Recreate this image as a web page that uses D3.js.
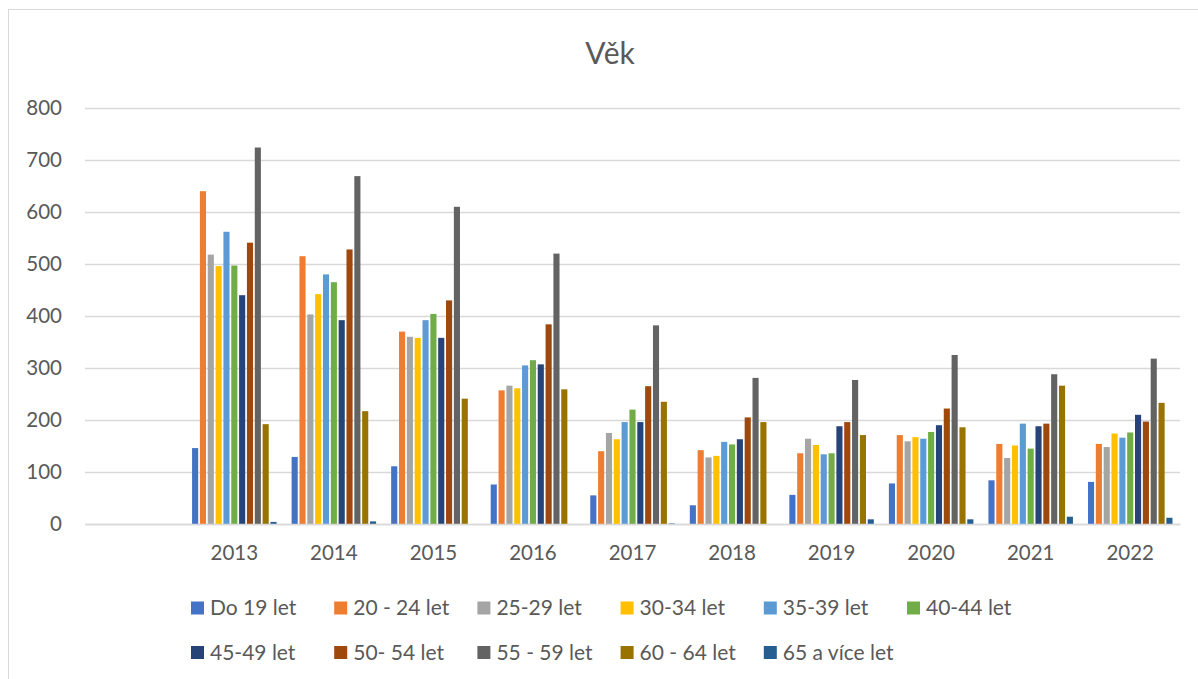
<!doctype html>
<html lang="cs">
  <head>
    <meta charset="utf-8">
    <title>Věk</title>
    <style>
      body { margin: 0; background: #fff; }
      text { font-family: Lato, "Open Sans", sans-serif; fill: #595959; }
    </style>
  </head>
  <body>
    <div id="chart"></div>
    <script src="https://d3js.org/d3.v7.min.js"></script>
    <script>
    // first category is empty in the source sheet
    var years = ["", "2013", "2014", "2015", "2016", "2017", "2018", "2019", "2020", "2021", "2022"];

    var seriesNames = ["Do 19 let", "20 - 24 let", "25-29 let", "30-34 let", "35-39 let", "40-44 let",
                       "45-49 let", "50- 54 let", "55 - 59 let", "60 - 64 let", "65 a více let"];

    var colors = ["#4472C4", "#ED7D31", "#A5A5A5", "#FFC000", "#5B9BD5", "#70AD47",
                  "#264478", "#9E480E", "#636363", "#997300", "#255E91"];

    var yTicks = [0, 100, 200, 300, 400, 500, 600, 700, 800];

    // one array per age group, values for 2013..2022
    var do19   = [146, 129, 111, 76, 55, 36, 56, 78, 84, 81];
    var a20_24 = [640, 515, 370, 257, 140, 142, 136, 171, 154, 154];
    var a25_29 = [518, 403, 360, 266, 175, 128, 164, 159, 127, 148];
    var a30_34 = [496, 442, 358, 261, 163, 131, 152, 167, 151, 174];
    var a35_39 = [562, 480, 392, 305, 196, 158, 134, 164, 193, 166];
    var a40_44 = [497, 465, 404, 315, 220, 153, 136, 177, 145, 176];
    var a45_49 = [440, 392, 358, 307, 196, 163, 188, 190, 188, 210];
    var a50_54 = [541, 528, 430, 384, 265, 205, 196, 222, 193, 197];
    var a55_59 = [724, 669, 610, 520, 382, 281, 277, 325, 288, 318];
    var a60_64 = [192, 217, 241, 259, 235, 196, 171, 186, 266, 233];
    var a65    = [4, 5, 0, 0, 1, 0, 9, 9, 14, 12];

    var seriesValues = [do19, a20_24, a25_29, a30_34, a35_39, a40_44, a45_49, a50_54, a55_59, a60_64, a65];

    var W = 1198, H = 679;

    var svg = d3.select("#chart")
        .append("svg")
        .attr("width", W)
        .attr("height", H);

    // chart frame (runs off the right and bottom of the picture)
    svg.append("rect")
        .attr("x", 8.5).attr("y", 9.5)
        .attr("width", W).attr("height", H)
        .attr("fill", "none")
        .attr("stroke", "#d9d9d9")
        .attr("stroke-width", 1);

    svg.append("text")
        .attr("x", 610).attr("y", 64)
        .attr("text-anchor", "middle")
        .attr("font-size", 30)
        .text("Věk");

    var x0 = d3.scaleBand()
        .domain(years)
        .range([85, 1180]);

    var x1 = d3.scaleBand()
        .domain(seriesNames)
        .range([0, x0.bandwidth()])
        .paddingInner(0.22)
        .paddingOuter(0.96);

    var y = d3.scaleLinear()
        .domain([0, 800])
        .range([524, 108]);

    var yAxis = svg.append("g")
        .attr("transform", "translate(85,0)")
        .call(d3.axisLeft(y).tickValues(yTicks).tickSize(-(1180 - 85)).tickPadding(23));
    yAxis.select(".domain").remove();
    yAxis.selectAll(".tick line")
        .attr("stroke", "#d9d9d9")
        .attr("stroke-width", 1.3);
    yAxis.selectAll(".tick text")
        .attr("font-size", 20.5)
        .attr("fill", "#595959");

    var groups = svg.selectAll("g.year")
        .data(years.slice(1))
        .join("g")
        .attr("class", "year")
        .attr("transform", function(d){ return "translate(" + x0(d) + ",0)"; });

    groups.selectAll("rect")
        .data(function(d, i){
          return seriesNames.map(function(s, j){ return {name: s, value: seriesValues[j][i], color: colors[j]}; });
        })
        .join("rect")
        .attr("x", function(d){ return x1(d.name); })
        .attr("y", function(d){ return y(d.value); })
        .attr("width", x1.bandwidth())
        .attr("height", function(d){ return y(0) - y(d.value); })
        .attr("fill", function(d){ return d.color; });

    var xAxis = svg.append("g")
        .attr("transform", "translate(0,524)")
        .call(d3.axisBottom(x0).tickSize(0).tickPadding(21));
    xAxis.select(".domain")
        .attr("stroke", "#d9d9d9")
        .attr("stroke-width", 1.3);
    xAxis.selectAll(".tick text")
        .attr("font-size", 20.5)
        .attr("fill", "#595959");

    // legend, two rows
    var legendX = d3.scalePoint().domain(d3.range(6)).range([191, 907]);
    var legend = svg.selectAll("g.legend")
        .data(seriesNames)
        .join("g")
        .attr("class", "legend")
        .attr("transform", function(d, i){
          return "translate(" + legendX(i % 6) + "," + (i < 6 ? 608 : 652.5) + ")";
        });
    legend.append("rect")
        .attr("x", 0).attr("y", -6.5)
        .attr("width", 13).attr("height", 13)
        .attr("fill", function(d, i){ return colors[i]; });
    legend.append("text")
        .attr("x", 19)
        .attr("dy", "0.35em")
        .attr("font-size", 21)
        .text(function(d){ return d; });
    </script>
  </body>
</html>
